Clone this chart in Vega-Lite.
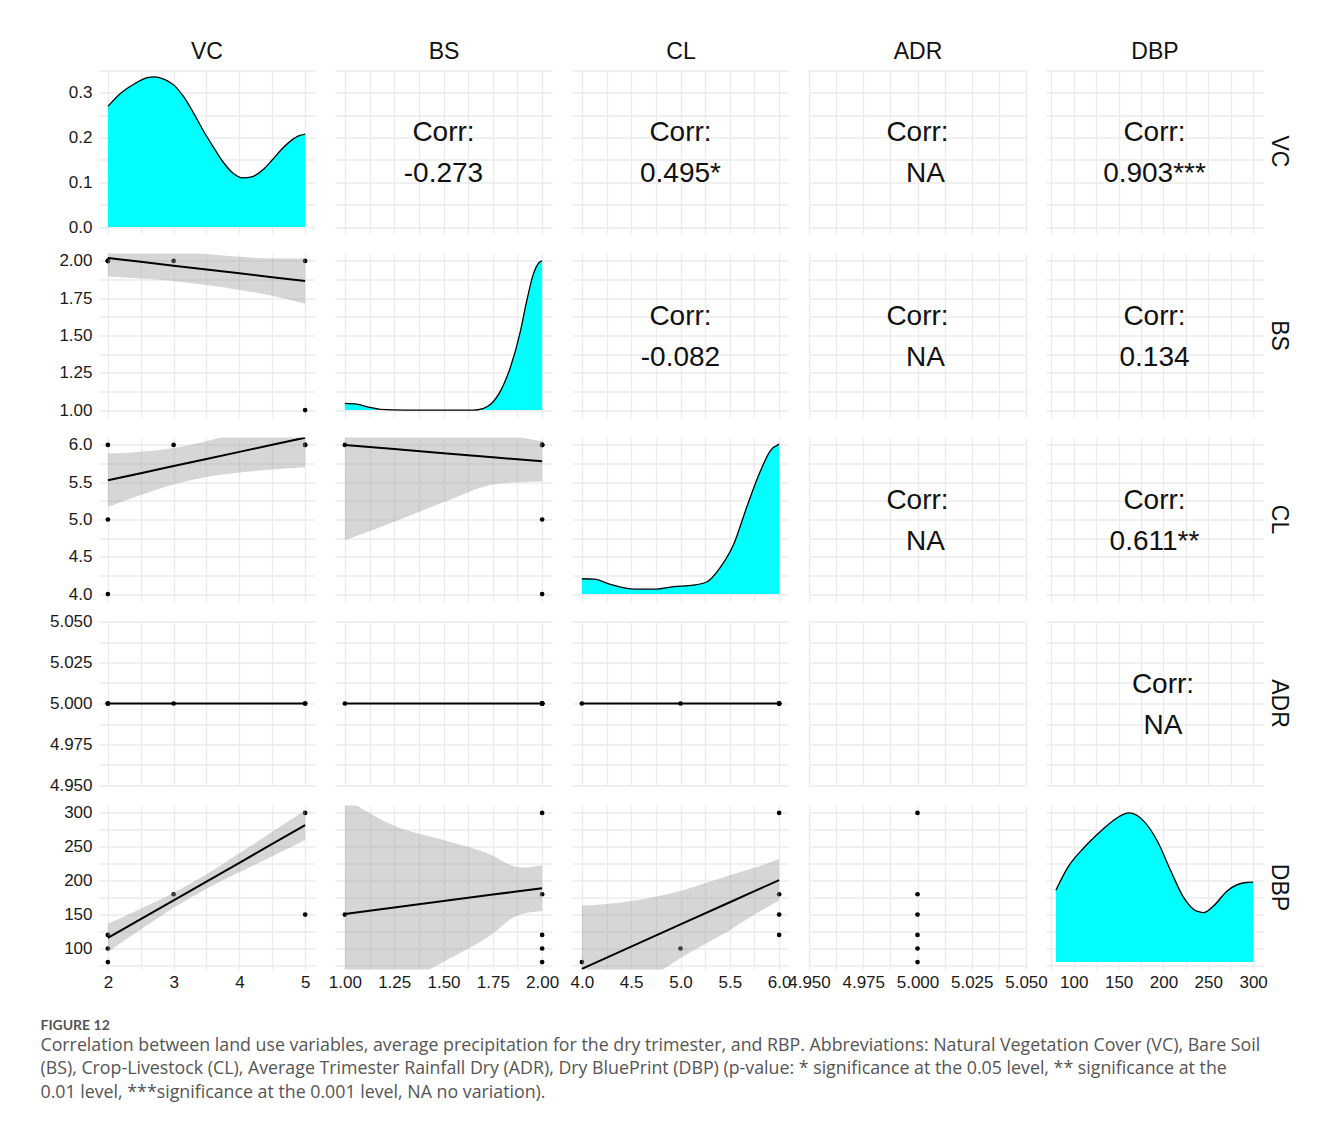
{
"$schema": "https://vega.github.io/schema/vega-lite/v6.json",
"background": "white",
"padding": {"left": 40, "top": 40.5, "right": 10, "bottom": 10},
"columns": 5,
"spacing": {"row": 20, "column": 20},
"bounds": "flush",
"title": {"text": "FIGURE 12", "subtitle": ["Correlation between land use variables, average precipitation for the dry trimester, and RBP. Abbreviations: Natural Vegetation Cover (VC), Bare Soil", "(BS), Crop-Livestock (CL), Average Trimester Rainfall Dry (ADR), Dry BluePrint (DBP) (p-value: * significance at the 0.05 level, ** significance at the", "0.01 level, ***significance at the 0.001 level, NA no variation)."], "orient": "bottom", "anchor": "start", "frame": "bounds", "font": "Lato", "fontSize": 14, "fontWeight": "bold", "color": "#555555", "subtitleFont": "Open Sans", "subtitleFontSize": 17.8, "subtitleColor": "#555555", "subtitleLineHeight": 23.5, "subtitlePadding": 4, "offset": 28, "dx": -9},
"datasets": {
"obs": [
{"VC":2,"BS":2,"CL":6,"ADR":5,"DBP":120},
{"VC":2,"BS":2,"CL":5,"ADR":5,"DBP":100},
{"VC":2,"BS":2,"CL":4,"ADR":5,"DBP":80},
{"VC":3,"BS":2,"CL":6,"ADR":5,"DBP":180},
{"VC":5,"BS":2,"CL":6,"ADR":5,"DBP":300},
{"VC":5,"BS":1,"CL":6,"ADR":5,"DBP":150}],
"dvc": [{"VC":2,"d":0.270},{"VC":2.2,"d":0.300},{"VC":2.4,"d":0.320},{"VC":2.6,"d":0.334},{"VC":2.7,"d":0.336},{"VC":2.85,"d":0.331},{"VC":3.0,"d":0.318},{"VC":3.15,"d":0.292},{"VC":3.3,"d":0.256},{"VC":3.45,"d":0.216},{"VC":3.6,"d":0.180},{"VC":3.75,"d":0.146},{"VC":3.9,"d":0.121},{"VC":4.05,"d":0.110},{"VC":4.2,"d":0.113},{"VC":4.35,"d":0.127},{"VC":4.5,"d":0.150},{"VC":4.65,"d":0.175},{"VC":4.8,"d":0.195},{"VC":4.9,"d":0.204},{"VC":5.0,"d":0.208}],
"dbs": [{"BS":1,"d":1.045},{"BS":1.06,"d":1.04},{"BS":1.12,"d":1.02},{"BS":1.18,"d":1.005},{"BS":1.3,"d":1.0},{"BS":1.5,"d":1.0},{"BS":1.65,"d":1.0},{"BS":1.7,"d":1.01},{"BS":1.74,"d":1.04},{"BS":1.79,"d":1.13},{"BS":1.84,"d":1.29},{"BS":1.89,"d":1.53},{"BS":1.92,"d":1.72},{"BS":1.955,"d":1.91},{"BS":1.985,"d":1.99},{"BS":2.0,"d":2.0}],
"dcl": [{"CL":4,"d":4.205},{"CL":4.125,"d":4.2},{"CL":4.29,"d":4.13},{"CL":4.53,"d":4.065},{"CL":4.73,"d":4.065},{"CL":4.93,"d":4.1},{"CL":5.13,"d":4.12},{"CL":5.27,"d":4.165},{"CL":5.4,"d":4.35},{"CL":5.54,"d":4.67},{"CL":5.67,"d":5.16},{"CL":5.81,"d":5.65},{"CL":5.91,"d":5.92},{"CL":6,"d":6.01}],
"ddbp": [{"DBP":80,"d":186},{"DBP":93,"d":219},{"DBP":111.5,"d":249},{"DBP":130,"d":273},{"DBP":148.5,"d":293},{"DBP":161.5,"d":300},{"DBP":178,"d":288},{"DBP":193,"d":259},{"DBP":208,"d":215},{"DBP":222.6,"d":175},{"DBP":237,"d":155},{"DBP":245,"d":153},{"DBP":256,"d":163},{"DBP":271,"d":185},{"DBP":290,"d":197},{"DBP":300,"d":198}],
"f_vc_bs": [{"x":2,"fit":2.02,"lo":1.895,"hi":2.145},{"x":2.5,"fit":1.994,"lo":1.882,"hi":2.106},{"x":3,"fit":1.968,"lo":1.866,"hi":2.07},{"x":3.5,"fit":1.942,"lo":1.838,"hi":2.046},{"x":4,"fit":1.917,"lo":1.806,"hi":2.028},{"x":4.5,"fit":1.891,"lo":1.766,"hi":2.016},{"x":5,"fit":1.865,"lo":1.713,"hi":2.017}],
"f_vc_cl": [{"x":2,"fit":5.526,"lo":5.168,"hi":5.884},{"x":2.5,"fit":5.621,"lo":5.33,"hi":5.91},{"x":3,"fit":5.717,"lo":5.47,"hi":5.96},{"x":3.5,"fit":5.812,"lo":5.57,"hi":6.05},{"x":4,"fit":5.907,"lo":5.63,"hi":6.18},{"x":4.5,"fit":6.003,"lo":5.67,"hi":6.33},{"x":5,"fit":6.098,"lo":5.7,"hi":6.5}],
"f_vc_dbp": [{"x":2,"fit":115.7,"lo":95,"hi":136.5},{"x":2.5,"fit":143.4,"lo":128,"hi":158.8},{"x":3,"fit":171.1,"lo":160,"hi":182.2},{"x":3.5,"fit":198.8,"lo":188,"hi":209.6},{"x":4,"fit":226.5,"lo":212.5,"hi":240.5},{"x":4.5,"fit":254.2,"lo":236,"hi":272.4},{"x":5,"fit":282,"lo":260,"hi":304}],
"f_bs_cl": [{"x":1,"fit":6.0,"lo":4.72,"hi":7.28},{"x":1.25,"fit":5.945,"lo":4.97,"hi":6.92},{"x":1.5,"fit":5.89,"lo":5.23,"hi":6.55},{"x":1.75,"fit":5.835,"lo":5.47,"hi":6.2},{"x":1.875,"fit":5.807,"lo":5.5,"hi":6.11},{"x":2,"fit":5.78,"lo":5.51,"hi":6.05}],
"f_bs_dbp": [{"x":1,"fit":151,"lo":-20,"hi":322},{"x":1.25,"fit":160.5,"lo":40,"hi":281},{"x":1.5,"fit":170,"lo":80,"hi":260},{"x":1.75,"fit":179.5,"lo":122,"hi":237},{"x":1.85,"fit":183.3,"lo":145,"hi":222},{"x":1.9,"fit":185.2,"lo":151,"hi":219.5},{"x":2,"fit":189,"lo":155,"hi":223}],
"f_cl_dbp": [{"x":4,"fit":70,"lo":-23,"hi":163},{"x":4.5,"fit":102.75,"lo":35,"hi":170},{"x":5,"fit":135.5,"lo":86,"hi":185},{"x":5.5,"fit":168.25,"lo":127,"hi":208},{"x":5.75,"fit":184.6,"lo":150,"hi":219},{"x":6,"fit":201,"lo":171,"hi":232}]
},
"concat": [
{"width":217,"height":164,"data":{"name":"dvc"},"layer":[
 {"mark":{"type":"area","color":"#00FFFF","interpolate":"monotone","clip":true},
  "encoding":{"x":{"field":"VC","type":"quantitative","scale":{"domain":[1.85,5.15],"nice":false,"zero":false},"axis":{"orient":"top","title":"VC","titlePadding":6,"labels":false,"values":[2,2.5,3,3.5,4,4.5,5]}},
   "y":{"field":"d","type":"quantitative","scale":{"domain":[-0.0145,0.3524],"nice":false,"zero":false},"axis":{"title":null,"values":[0,0.05,0.1,0.15,0.2,0.25,0.3,0.35],"labelExpr":"abs(datum.value*10 - round(datum.value*10)) < 0.000001 ? format(datum.value, '.1f') : ''"}},
   "y2":{"datum":0}}},
 {"mark":{"type":"line","color":"black","strokeWidth":1.3,"interpolate":"monotone","clip":true},
  "encoding":{"x":{"field":"VC","type":"quantitative","scale":{"domain":[1.85,5.15],"nice":false,"zero":false},"axis":{"orient":"top","title":"VC","titlePadding":6,"labels":false,"values":[2,2.5,3,3.5,4,4.5,5]}},
   "y":{"field":"d","type":"quantitative","scale":{"domain":[-0.0145,0.3524],"nice":false,"zero":false},"axis":{"title":null,"values":[0,0.05,0.1,0.15,0.2,0.25,0.3,0.35],"labelExpr":"abs(datum.value*10 - round(datum.value*10)) < 0.000001 ? format(datum.value, '.1f') : ''"}}}}
]},
{"width":217,"height":164,"data":{"values":[{"r":"-0.273"}]},"layer":[
 {"mark":{"type":"text","text":"Corr:","fontSize":28,"dy":-18.5,"color":"#111111"},
  "encoding":{"x":{"datum":1.5,"type":"quantitative","scale":{"domain":[0.95,2.05],"nice":false,"zero":false},"axis":{"orient":"top","title":"BS","titlePadding":6,"labels":false,"values":[1,1.125,1.25,1.375,1.5,1.625,1.75,1.875,2]}},
   "y":{"datum":0.169,"type":"quantitative","scale":{"domain":[-0.0145,0.3524],"nice":false,"zero":false},"axis":{"title":null,"labels":false,"values":[0,0.05,0.1,0.15,0.2,0.25,0.3,0.35]}}}},
 {"mark":{"type":"text","fontSize":28,"dy":22.5,"color":"#111111"},
  "encoding":{"x":{"datum":1.5,"type":"quantitative","scale":{"domain":[0.95,2.05],"nice":false,"zero":false},"axis":{"orient":"top","title":"BS","titlePadding":6,"labels":false,"values":[1,1.125,1.25,1.375,1.5,1.625,1.75,1.875,2]}},
   "y":{"datum":0.169,"type":"quantitative","scale":{"domain":[-0.0145,0.3524],"nice":false,"zero":false},"axis":{"title":null,"labels":false,"values":[0,0.05,0.1,0.15,0.2,0.25,0.3,0.35]}},"text":{"field":"r"}}}
]},
{"width":217,"height":164,"data":{"values":[{"r":"0.495*"}]},"layer":[
 {"mark":{"type":"text","text":"Corr:","fontSize":28,"dy":-18.5,"color":"#111111"},
  "encoding":{"x":{"datum":5,"type":"quantitative","scale":{"domain":[3.9,6.1],"nice":false,"zero":false},"axis":{"orient":"top","title":"CL","titlePadding":6,"labels":false,"values":[4,4.25,4.5,4.75,5,5.25,5.5,5.75,6]}},
   "y":{"datum":0.169,"type":"quantitative","scale":{"domain":[-0.0145,0.3524],"nice":false,"zero":false},"axis":{"title":null,"labels":false,"values":[0,0.05,0.1,0.15,0.2,0.25,0.3,0.35]}}}},
 {"mark":{"type":"text","fontSize":28,"dy":22.5,"color":"#111111"},
  "encoding":{"x":{"datum":5,"type":"quantitative","scale":{"domain":[3.9,6.1],"nice":false,"zero":false},"axis":{"orient":"top","title":"CL","titlePadding":6,"labels":false,"values":[4,4.25,4.5,4.75,5,5.25,5.5,5.75,6]}},
   "y":{"datum":0.169,"type":"quantitative","scale":{"domain":[-0.0145,0.3524],"nice":false,"zero":false},"axis":{"title":null,"labels":false,"values":[0,0.05,0.1,0.15,0.2,0.25,0.3,0.35]}},"text":{"field":"r"}}}
]},
{"width":217,"height":164,"data":{"values":[{"r":"NA"}]},"layer":[
 {"mark":{"type":"text","text":"Corr:","fontSize":28,"dy":-18.5,"color":"#111111"},
  "encoding":{"x":{"datum":5,"type":"quantitative","scale":{"domain":[4.95,5.05],"nice":false,"zero":false},"axis":{"orient":"top","title":"ADR","titlePadding":6,"labels":false,"values":[4.95,4.9625,4.975,4.9875,5,5.0125,5.025,5.0375,5.05]}},
   "y":{"datum":0.169,"type":"quantitative","scale":{"domain":[-0.0145,0.3524],"nice":false,"zero":false},"axis":{"title":null,"labels":false,"values":[0,0.05,0.1,0.15,0.2,0.25,0.3,0.35]}}}},
 {"mark":{"type":"text","fontSize":28,"dy":22.5,"dx":8,"color":"#111111"},
  "encoding":{"x":{"datum":5,"type":"quantitative","scale":{"domain":[4.95,5.05],"nice":false,"zero":false},"axis":{"orient":"top","title":"ADR","titlePadding":6,"labels":false,"values":[4.95,4.9625,4.975,4.9875,5,5.0125,5.025,5.0375,5.05]}},
   "y":{"datum":0.169,"type":"quantitative","scale":{"domain":[-0.0145,0.3524],"nice":false,"zero":false},"axis":{"title":null,"labels":false,"values":[0,0.05,0.1,0.15,0.2,0.25,0.3,0.35]}},"text":{"field":"r"}}}
]},
{"width":217,"height":164,"title":{"text":"VC","orient":"right","fontSize":23,"fontWeight":"normal","color":"#111111","offset":4},"data":{"values":[{"r":"0.903***"}]},"layer":[
 {"mark":{"type":"text","text":"Corr:","fontSize":28,"dy":-18.5,"color":"#111111"},
  "encoding":{"x":{"datum":190,"type":"quantitative","scale":{"domain":[69,311],"nice":false,"zero":false},"axis":{"orient":"top","title":"DBP","titlePadding":6,"labels":false,"values":[75,100,125,150,175,200,225,250,275,300]}},
   "y":{"datum":0.169,"type":"quantitative","scale":{"domain":[-0.0145,0.3524],"nice":false,"zero":false},"axis":{"title":null,"labels":false,"values":[0,0.05,0.1,0.15,0.2,0.25,0.3,0.35]}}}},
 {"mark":{"type":"text","fontSize":28,"dy":22.5,"color":"#111111"},
  "encoding":{"x":{"datum":190,"type":"quantitative","scale":{"domain":[69,311],"nice":false,"zero":false},"axis":{"orient":"top","title":"DBP","titlePadding":6,"labels":false,"values":[75,100,125,150,175,200,225,250,275,300]}},
   "y":{"datum":0.169,"type":"quantitative","scale":{"domain":[-0.0145,0.3524],"nice":false,"zero":false},"axis":{"title":null,"labels":false,"values":[0,0.05,0.1,0.15,0.2,0.25,0.3,0.35]}},"text":{"field":"r"}}}
]},

{"width":217,"height":164,"layer":[
 {"data":{"name":"obs"},"mark":{"type":"circle","size":22,"color":"black","opacity":1,"clip":true},
  "encoding":{"x":{"field":"VC","type":"quantitative","scale":{"domain":[1.85,5.15],"nice":false,"zero":false},"axis":{"title":null,"labels":false,"values":[2,2.5,3,3.5,4,4.5,5]}},
   "y":{"field":"BS","type":"quantitative","scale":{"domain":[0.95,2.05],"nice":false,"zero":false},"axis":{"title":null,"values":[1,1.125,1.25,1.375,1.5,1.625,1.75,1.875,2],"labelExpr":"abs(datum.value*4 - round(datum.value*4)) < 0.000001 ? format(datum.value, '.2f') : ''"}}}},
 {"data":{"name":"f_vc_bs"},"mark":{"type":"area","color":"#999999","opacity":0.4,"interpolate":"monotone","clip":true},
  "encoding":{"x":{"field":"x","type":"quantitative","scale":{"domain":[1.85,5.15],"nice":false,"zero":false},"axis":{"title":null,"labels":false,"values":[2,2.5,3,3.5,4,4.5,5]}},
   "y":{"field":"lo","type":"quantitative","scale":{"domain":[0.95,2.05],"nice":false,"zero":false},"axis":{"title":null,"values":[1,1.125,1.25,1.375,1.5,1.625,1.75,1.875,2],"labelExpr":"abs(datum.value*4 - round(datum.value*4)) < 0.000001 ? format(datum.value, '.2f') : ''"}},"y2":{"field":"hi"}}},
 {"data":{"name":"f_vc_bs"},"mark":{"type":"line","color":"black","strokeWidth":2,"clip":true},
  "encoding":{"x":{"field":"x","type":"quantitative","scale":{"domain":[1.85,5.15],"nice":false,"zero":false},"axis":{"title":null,"labels":false,"values":[2,2.5,3,3.5,4,4.5,5]}},
   "y":{"field":"fit","type":"quantitative","scale":{"domain":[0.95,2.05],"nice":false,"zero":false},"axis":{"title":null,"values":[1,1.125,1.25,1.375,1.5,1.625,1.75,1.875,2],"labelExpr":"abs(datum.value*4 - round(datum.value*4)) < 0.000001 ? format(datum.value, '.2f') : ''"}}}}
]},
{"width":217,"height":164,"data":{"name":"dbs"},"layer":[
 {"mark":{"type":"area","color":"#00FFFF","interpolate":"monotone","clip":true},
  "encoding":{"x":{"field":"BS","type":"quantitative","scale":{"domain":[0.95,2.05],"nice":false,"zero":false},"axis":{"title":null,"labels":false,"values":[1,1.125,1.25,1.375,1.5,1.625,1.75,1.875,2]}},
   "y":{"field":"d","type":"quantitative","scale":{"domain":[0.95,2.05],"nice":false,"zero":false},"axis":{"title":null,"labels":false,"values":[1,1.125,1.25,1.375,1.5,1.625,1.75,1.875,2]}},
   "y2":{"datum":1}}},
 {"mark":{"type":"line","color":"black","strokeWidth":1.3,"interpolate":"monotone","clip":true},
  "encoding":{"x":{"field":"BS","type":"quantitative","scale":{"domain":[0.95,2.05],"nice":false,"zero":false},"axis":{"title":null,"labels":false,"values":[1,1.125,1.25,1.375,1.5,1.625,1.75,1.875,2]}},
   "y":{"field":"d","type":"quantitative","scale":{"domain":[0.95,2.05],"nice":false,"zero":false},"axis":{"title":null,"labels":false,"values":[1,1.125,1.25,1.375,1.5,1.625,1.75,1.875,2]}}}}
]},
{"width":217,"height":164,"data":{"values":[{"r":"-0.082"}]},"layer":[
 {"mark":{"type":"text","text":"Corr:","fontSize":28,"dy":-18.5,"color":"#111111"},
  "encoding":{"x":{"datum":5,"type":"quantitative","scale":{"domain":[3.9,6.1],"nice":false,"zero":false},"axis":{"title":null,"labels":false,"values":[4,4.25,4.5,4.75,5,5.25,5.5,5.75,6]}},
   "y":{"datum":1.5,"type":"quantitative","scale":{"domain":[0.95,2.05],"nice":false,"zero":false},"axis":{"title":null,"labels":false,"values":[1,1.125,1.25,1.375,1.5,1.625,1.75,1.875,2]}}}},
 {"mark":{"type":"text","fontSize":28,"dy":22.5,"color":"#111111"},
  "encoding":{"x":{"datum":5,"type":"quantitative","scale":{"domain":[3.9,6.1],"nice":false,"zero":false},"axis":{"title":null,"labels":false,"values":[4,4.25,4.5,4.75,5,5.25,5.5,5.75,6]}},
   "y":{"datum":1.5,"type":"quantitative","scale":{"domain":[0.95,2.05],"nice":false,"zero":false},"axis":{"title":null,"labels":false,"values":[1,1.125,1.25,1.375,1.5,1.625,1.75,1.875,2]}},"text":{"field":"r"}}}
]},
{"width":217,"height":164,"data":{"values":[{"r":"NA"}]},"layer":[
 {"mark":{"type":"text","text":"Corr:","fontSize":28,"dy":-18.5,"color":"#111111"},
  "encoding":{"x":{"datum":5,"type":"quantitative","scale":{"domain":[4.95,5.05],"nice":false,"zero":false},"axis":{"title":null,"labels":false,"values":[4.95,4.9625,4.975,4.9875,5,5.0125,5.025,5.0375,5.05]}},
   "y":{"datum":1.5,"type":"quantitative","scale":{"domain":[0.95,2.05],"nice":false,"zero":false},"axis":{"title":null,"labels":false,"values":[1,1.125,1.25,1.375,1.5,1.625,1.75,1.875,2]}}}},
 {"mark":{"type":"text","fontSize":28,"dy":22.5,"dx":8,"color":"#111111"},
  "encoding":{"x":{"datum":5,"type":"quantitative","scale":{"domain":[4.95,5.05],"nice":false,"zero":false},"axis":{"title":null,"labels":false,"values":[4.95,4.9625,4.975,4.9875,5,5.0125,5.025,5.0375,5.05]}},
   "y":{"datum":1.5,"type":"quantitative","scale":{"domain":[0.95,2.05],"nice":false,"zero":false},"axis":{"title":null,"labels":false,"values":[1,1.125,1.25,1.375,1.5,1.625,1.75,1.875,2]}},"text":{"field":"r"}}}
]},
{"width":217,"height":164,"title":{"text":"BS","orient":"right","fontSize":23,"fontWeight":"normal","color":"#111111","offset":4},"data":{"values":[{"r":"0.134"}]},"layer":[
 {"mark":{"type":"text","text":"Corr:","fontSize":28,"dy":-18.5,"color":"#111111"},
  "encoding":{"x":{"datum":190,"type":"quantitative","scale":{"domain":[69,311],"nice":false,"zero":false},"axis":{"title":null,"labels":false,"values":[75,100,125,150,175,200,225,250,275,300]}},
   "y":{"datum":1.5,"type":"quantitative","scale":{"domain":[0.95,2.05],"nice":false,"zero":false},"axis":{"title":null,"labels":false,"values":[1,1.125,1.25,1.375,1.5,1.625,1.75,1.875,2]}}}},
 {"mark":{"type":"text","fontSize":28,"dy":22.5,"color":"#111111"},
  "encoding":{"x":{"datum":190,"type":"quantitative","scale":{"domain":[69,311],"nice":false,"zero":false},"axis":{"title":null,"labels":false,"values":[75,100,125,150,175,200,225,250,275,300]}},
   "y":{"datum":1.5,"type":"quantitative","scale":{"domain":[0.95,2.05],"nice":false,"zero":false},"axis":{"title":null,"labels":false,"values":[1,1.125,1.25,1.375,1.5,1.625,1.75,1.875,2]}},"text":{"field":"r"}}}
]},

{"width":217,"height":164,"layer":[
 {"data":{"name":"obs"},"mark":{"type":"circle","size":22,"color":"black","opacity":1,"clip":true},
  "encoding":{"x":{"field":"VC","type":"quantitative","scale":{"domain":[1.85,5.15],"nice":false,"zero":false},"axis":{"title":null,"labels":false,"values":[2,2.5,3,3.5,4,4.5,5]}},
   "y":{"field":"CL","type":"quantitative","scale":{"domain":[3.9,6.1],"nice":false,"zero":false},"axis":{"title":null,"values":[4,4.25,4.5,4.75,5,5.25,5.5,5.75,6],"labelExpr":"abs(datum.value*2 - round(datum.value*2)) < 0.000001 ? format(datum.value, '.1f') : ''"}}}},
 {"data":{"name":"f_vc_cl"},"mark":{"type":"area","color":"#999999","opacity":0.4,"interpolate":"monotone","clip":true},
  "encoding":{"x":{"field":"x","type":"quantitative","scale":{"domain":[1.85,5.15],"nice":false,"zero":false},"axis":{"title":null,"labels":false,"values":[2,2.5,3,3.5,4,4.5,5]}},
   "y":{"field":"lo","type":"quantitative","scale":{"domain":[3.9,6.1],"nice":false,"zero":false},"axis":{"title":null,"values":[4,4.25,4.5,4.75,5,5.25,5.5,5.75,6],"labelExpr":"abs(datum.value*2 - round(datum.value*2)) < 0.000001 ? format(datum.value, '.1f') : ''"}},"y2":{"field":"hi"}}},
 {"data":{"name":"f_vc_cl"},"mark":{"type":"line","color":"black","strokeWidth":2,"clip":true},
  "encoding":{"x":{"field":"x","type":"quantitative","scale":{"domain":[1.85,5.15],"nice":false,"zero":false},"axis":{"title":null,"labels":false,"values":[2,2.5,3,3.5,4,4.5,5]}},
   "y":{"field":"fit","type":"quantitative","scale":{"domain":[3.9,6.1],"nice":false,"zero":false},"axis":{"title":null,"values":[4,4.25,4.5,4.75,5,5.25,5.5,5.75,6],"labelExpr":"abs(datum.value*2 - round(datum.value*2)) < 0.000001 ? format(datum.value, '.1f') : ''"}}}}
]},
{"width":217,"height":164,"layer":[
 {"data":{"name":"obs"},"mark":{"type":"circle","size":22,"color":"black","opacity":1,"clip":true},
  "encoding":{"x":{"field":"BS","type":"quantitative","scale":{"domain":[0.95,2.05],"nice":false,"zero":false},"axis":{"title":null,"labels":false,"values":[1,1.125,1.25,1.375,1.5,1.625,1.75,1.875,2]}},
   "y":{"field":"CL","type":"quantitative","scale":{"domain":[3.9,6.1],"nice":false,"zero":false},"axis":{"title":null,"labels":false,"values":[4,4.25,4.5,4.75,5,5.25,5.5,5.75,6]}}}},
 {"data":{"name":"f_bs_cl"},"mark":{"type":"area","color":"#999999","opacity":0.4,"interpolate":"monotone","clip":true},
  "encoding":{"x":{"field":"x","type":"quantitative","scale":{"domain":[0.95,2.05],"nice":false,"zero":false},"axis":{"title":null,"labels":false,"values":[1,1.125,1.25,1.375,1.5,1.625,1.75,1.875,2]}},
   "y":{"field":"lo","type":"quantitative","scale":{"domain":[3.9,6.1],"nice":false,"zero":false},"axis":{"title":null,"labels":false,"values":[4,4.25,4.5,4.75,5,5.25,5.5,5.75,6]}},"y2":{"field":"hi"}}},
 {"data":{"name":"f_bs_cl"},"mark":{"type":"line","color":"black","strokeWidth":2,"clip":true},
  "encoding":{"x":{"field":"x","type":"quantitative","scale":{"domain":[0.95,2.05],"nice":false,"zero":false},"axis":{"title":null,"labels":false,"values":[1,1.125,1.25,1.375,1.5,1.625,1.75,1.875,2]}},
   "y":{"field":"fit","type":"quantitative","scale":{"domain":[3.9,6.1],"nice":false,"zero":false},"axis":{"title":null,"labels":false,"values":[4,4.25,4.5,4.75,5,5.25,5.5,5.75,6]}}}}
]},
{"width":217,"height":164,"data":{"name":"dcl"},"layer":[
 {"mark":{"type":"area","color":"#00FFFF","interpolate":"monotone","clip":true},
  "encoding":{"x":{"field":"CL","type":"quantitative","scale":{"domain":[3.9,6.1],"nice":false,"zero":false},"axis":{"title":null,"labels":false,"values":[4,4.25,4.5,4.75,5,5.25,5.5,5.75,6]}},
   "y":{"field":"d","type":"quantitative","scale":{"domain":[3.9,6.1],"nice":false,"zero":false},"axis":{"title":null,"labels":false,"values":[4,4.25,4.5,4.75,5,5.25,5.5,5.75,6]}},
   "y2":{"datum":4}}},
 {"mark":{"type":"line","color":"black","strokeWidth":1.3,"interpolate":"monotone","clip":true},
  "encoding":{"x":{"field":"CL","type":"quantitative","scale":{"domain":[3.9,6.1],"nice":false,"zero":false},"axis":{"title":null,"labels":false,"values":[4,4.25,4.5,4.75,5,5.25,5.5,5.75,6]}},
   "y":{"field":"d","type":"quantitative","scale":{"domain":[3.9,6.1],"nice":false,"zero":false},"axis":{"title":null,"labels":false,"values":[4,4.25,4.5,4.75,5,5.25,5.5,5.75,6]}}}}
]},
{"width":217,"height":164,"data":{"values":[{"r":"NA"}]},"layer":[
 {"mark":{"type":"text","text":"Corr:","fontSize":28,"dy":-18.5,"color":"#111111"},
  "encoding":{"x":{"datum":5,"type":"quantitative","scale":{"domain":[4.95,5.05],"nice":false,"zero":false},"axis":{"title":null,"labels":false,"values":[4.95,4.9625,4.975,4.9875,5,5.0125,5.025,5.0375,5.05]}},
   "y":{"datum":5,"type":"quantitative","scale":{"domain":[3.9,6.1],"nice":false,"zero":false},"axis":{"title":null,"labels":false,"values":[4,4.25,4.5,4.75,5,5.25,5.5,5.75,6]}}}},
 {"mark":{"type":"text","fontSize":28,"dy":22.5,"dx":8,"color":"#111111"},
  "encoding":{"x":{"datum":5,"type":"quantitative","scale":{"domain":[4.95,5.05],"nice":false,"zero":false},"axis":{"title":null,"labels":false,"values":[4.95,4.9625,4.975,4.9875,5,5.0125,5.025,5.0375,5.05]}},
   "y":{"datum":5,"type":"quantitative","scale":{"domain":[3.9,6.1],"nice":false,"zero":false},"axis":{"title":null,"labels":false,"values":[4,4.25,4.5,4.75,5,5.25,5.5,5.75,6]}},"text":{"field":"r"}}}
]},
{"width":217,"height":164,"title":{"text":"CL","orient":"right","fontSize":23,"fontWeight":"normal","color":"#111111","offset":4},"data":{"values":[{"r":"0.611**"}]},"layer":[
 {"mark":{"type":"text","text":"Corr:","fontSize":28,"dy":-18.5,"color":"#111111"},
  "encoding":{"x":{"datum":190,"type":"quantitative","scale":{"domain":[69,311],"nice":false,"zero":false},"axis":{"title":null,"labels":false,"values":[75,100,125,150,175,200,225,250,275,300]}},
   "y":{"datum":5,"type":"quantitative","scale":{"domain":[3.9,6.1],"nice":false,"zero":false},"axis":{"title":null,"labels":false,"values":[4,4.25,4.5,4.75,5,5.25,5.5,5.75,6]}}}},
 {"mark":{"type":"text","fontSize":28,"dy":22.5,"color":"#111111"},
  "encoding":{"x":{"datum":190,"type":"quantitative","scale":{"domain":[69,311],"nice":false,"zero":false},"axis":{"title":null,"labels":false,"values":[75,100,125,150,175,200,225,250,275,300]}},
   "y":{"datum":5,"type":"quantitative","scale":{"domain":[3.9,6.1],"nice":false,"zero":false},"axis":{"title":null,"labels":false,"values":[4,4.25,4.5,4.75,5,5.25,5.5,5.75,6]}},"text":{"field":"r"}}}
]},

{"width":217,"height":164,"data":{"name":"obs"},"layer":[
 {"mark":{"type":"line","color":"black","strokeWidth":2,"clip":true},
  "encoding":{"x":{"field":"VC","type":"quantitative","scale":{"domain":[1.85,5.15],"nice":false,"zero":false},"axis":{"title":null,"labels":false,"values":[2,2.5,3,3.5,4,4.5,5]}},
   "y":{"field":"ADR","type":"quantitative","scale":{"domain":[4.95,5.05],"nice":false,"zero":false},"axis":{"title":null,"values":[4.95,4.9625,4.975,4.9875,5,5.0125,5.025,5.0375,5.05],"labelExpr":"abs(datum.value*40 - round(datum.value*40)) < 0.000001 ? format(datum.value, '.3f') : ''"}}}},
 {"mark":{"type":"circle","size":22,"color":"black","opacity":1,"clip":true},
  "encoding":{"x":{"field":"VC","type":"quantitative","scale":{"domain":[1.85,5.15],"nice":false,"zero":false},"axis":{"title":null,"labels":false,"values":[2,2.5,3,3.5,4,4.5,5]}},
   "y":{"field":"ADR","type":"quantitative","scale":{"domain":[4.95,5.05],"nice":false,"zero":false},"axis":{"title":null,"values":[4.95,4.9625,4.975,4.9875,5,5.0125,5.025,5.0375,5.05],"labelExpr":"abs(datum.value*40 - round(datum.value*40)) < 0.000001 ? format(datum.value, '.3f') : ''"}}}}
]},
{"width":217,"height":164,"data":{"name":"obs"},"layer":[
 {"mark":{"type":"line","color":"black","strokeWidth":2,"clip":true},
  "encoding":{"x":{"field":"BS","type":"quantitative","scale":{"domain":[0.95,2.05],"nice":false,"zero":false},"axis":{"title":null,"labels":false,"values":[1,1.125,1.25,1.375,1.5,1.625,1.75,1.875,2]}},
   "y":{"field":"ADR","type":"quantitative","scale":{"domain":[4.95,5.05],"nice":false,"zero":false},"axis":{"title":null,"labels":false,"values":[4.95,4.9625,4.975,4.9875,5,5.0125,5.025,5.0375,5.05]}}}},
 {"mark":{"type":"circle","size":22,"color":"black","opacity":1,"clip":true},
  "encoding":{"x":{"field":"BS","type":"quantitative","scale":{"domain":[0.95,2.05],"nice":false,"zero":false},"axis":{"title":null,"labels":false,"values":[1,1.125,1.25,1.375,1.5,1.625,1.75,1.875,2]}},
   "y":{"field":"ADR","type":"quantitative","scale":{"domain":[4.95,5.05],"nice":false,"zero":false},"axis":{"title":null,"labels":false,"values":[4.95,4.9625,4.975,4.9875,5,5.0125,5.025,5.0375,5.05]}}}}
]},
{"width":217,"height":164,"data":{"name":"obs"},"layer":[
 {"mark":{"type":"line","color":"black","strokeWidth":2,"clip":true},
  "encoding":{"x":{"field":"CL","type":"quantitative","scale":{"domain":[3.9,6.1],"nice":false,"zero":false},"axis":{"title":null,"labels":false,"values":[4,4.25,4.5,4.75,5,5.25,5.5,5.75,6]}},
   "y":{"field":"ADR","type":"quantitative","scale":{"domain":[4.95,5.05],"nice":false,"zero":false},"axis":{"title":null,"labels":false,"values":[4.95,4.9625,4.975,4.9875,5,5.0125,5.025,5.0375,5.05]}}}},
 {"mark":{"type":"circle","size":22,"color":"black","opacity":1,"clip":true},
  "encoding":{"x":{"field":"CL","type":"quantitative","scale":{"domain":[3.9,6.1],"nice":false,"zero":false},"axis":{"title":null,"labels":false,"values":[4,4.25,4.5,4.75,5,5.25,5.5,5.75,6]}},
   "y":{"field":"ADR","type":"quantitative","scale":{"domain":[4.95,5.05],"nice":false,"zero":false},"axis":{"title":null,"labels":false,"values":[4.95,4.9625,4.975,4.9875,5,5.0125,5.025,5.0375,5.05]}}}}
]},
{"width":217,"height":164,"data":{"values":[{"r":""}]},
 "mark":{"type":"text","text":""},
 "encoding":{"x":{"datum":5,"type":"quantitative","scale":{"domain":[4.95,5.05],"nice":false,"zero":false},"axis":{"title":null,"labels":false,"values":[4.95,4.9625,4.975,4.9875,5,5.0125,5.025,5.0375,5.05]}},
   "y":{"datum":5,"type":"quantitative","scale":{"domain":[4.95,5.05],"nice":false,"zero":false},"axis":{"title":null,"labels":false,"values":[4.95,4.9625,4.975,4.9875,5,5.0125,5.025,5.0375,5.05]}}}
},
{"width":217,"height":164,"title":{"text":"ADR","orient":"right","fontSize":23,"fontWeight":"normal","color":"#111111","offset":4},"data":{"values":[{"r":"NA"}]},"layer":[
 {"mark":{"type":"text","text":"Corr:","fontSize":28,"dy":-18.5,"dx":8.5,"color":"#111111"},
  "encoding":{"x":{"datum":190,"type":"quantitative","scale":{"domain":[69,311],"nice":false,"zero":false},"axis":{"title":null,"labels":false,"values":[75,100,125,150,175,200,225,250,275,300]}},
   "y":{"datum":5,"type":"quantitative","scale":{"domain":[4.95,5.05],"nice":false,"zero":false},"axis":{"title":null,"labels":false,"values":[4.95,4.9625,4.975,4.9875,5,5.0125,5.025,5.0375,5.05]}}}},
 {"mark":{"type":"text","fontSize":28,"dy":22.5,"dx":8.5,"color":"#111111"},
  "encoding":{"x":{"datum":190,"type":"quantitative","scale":{"domain":[69,311],"nice":false,"zero":false},"axis":{"title":null,"labels":false,"values":[75,100,125,150,175,200,225,250,275,300]}},
   "y":{"datum":5,"type":"quantitative","scale":{"domain":[4.95,5.05],"nice":false,"zero":false},"axis":{"title":null,"labels":false,"values":[4.95,4.9625,4.975,4.9875,5,5.0125,5.025,5.0375,5.05]}},"text":{"field":"r"}}}
]},

{"width":217,"height":164,"layer":[
 {"data":{"name":"obs"},"mark":{"type":"circle","size":22,"color":"black","opacity":1,"clip":true},
  "encoding":{"x":{"field":"VC","type":"quantitative","scale":{"domain":[1.85,5.15],"nice":false,"zero":false},"axis":{"title":null,"values":[2,2.5,3,3.5,4,4.5,5],"labelExpr":"datum.value % 1 === 0 ? format(datum.value, 'd') : ''"}},
   "y":{"field":"DBP","type":"quantitative","scale":{"domain":[69,311],"nice":false,"zero":false},"axis":{"title":null,"values":[75,100,125,150,175,200,225,250,275,300],"labelExpr":"datum.value % 50 === 0 ? format(datum.value, 'd') : ''"}}}},
 {"data":{"name":"f_vc_dbp"},"mark":{"type":"area","color":"#999999","opacity":0.4,"interpolate":"monotone","clip":true},
  "encoding":{"x":{"field":"x","type":"quantitative","scale":{"domain":[1.85,5.15],"nice":false,"zero":false},"axis":{"title":null,"values":[2,2.5,3,3.5,4,4.5,5],"labelExpr":"datum.value % 1 === 0 ? format(datum.value, 'd') : ''"}},
   "y":{"field":"lo","type":"quantitative","scale":{"domain":[69,311],"nice":false,"zero":false},"axis":{"title":null,"values":[75,100,125,150,175,200,225,250,275,300],"labelExpr":"datum.value % 50 === 0 ? format(datum.value, 'd') : ''"}},"y2":{"field":"hi"}}},
 {"data":{"name":"f_vc_dbp"},"mark":{"type":"line","color":"black","strokeWidth":2,"clip":true},
  "encoding":{"x":{"field":"x","type":"quantitative","scale":{"domain":[1.85,5.15],"nice":false,"zero":false},"axis":{"title":null,"values":[2,2.5,3,3.5,4,4.5,5],"labelExpr":"datum.value % 1 === 0 ? format(datum.value, 'd') : ''"}},
   "y":{"field":"fit","type":"quantitative","scale":{"domain":[69,311],"nice":false,"zero":false},"axis":{"title":null,"values":[75,100,125,150,175,200,225,250,275,300],"labelExpr":"datum.value % 50 === 0 ? format(datum.value, 'd') : ''"}}}}
]},
{"width":217,"height":164,"layer":[
 {"data":{"name":"obs"},"mark":{"type":"circle","size":22,"color":"black","opacity":1,"clip":true},
  "encoding":{"x":{"field":"BS","type":"quantitative","scale":{"domain":[0.95,2.05],"nice":false,"zero":false},"axis":{"title":null,"values":[1,1.125,1.25,1.375,1.5,1.625,1.75,1.875,2],"labelExpr":"abs(datum.value*4 - round(datum.value*4)) < 0.000001 ? format(datum.value, '.2f') : ''"}},
   "y":{"field":"DBP","type":"quantitative","scale":{"domain":[69,311],"nice":false,"zero":false},"axis":{"title":null,"labels":false,"values":[75,100,125,150,175,200,225,250,275,300]}}}},
 {"data":{"name":"f_bs_dbp"},"mark":{"type":"area","color":"#999999","opacity":0.4,"interpolate":"monotone","clip":true},
  "encoding":{"x":{"field":"x","type":"quantitative","scale":{"domain":[0.95,2.05],"nice":false,"zero":false},"axis":{"title":null,"values":[1,1.125,1.25,1.375,1.5,1.625,1.75,1.875,2],"labelExpr":"abs(datum.value*4 - round(datum.value*4)) < 0.000001 ? format(datum.value, '.2f') : ''"}},
   "y":{"field":"lo","type":"quantitative","scale":{"domain":[69,311],"nice":false,"zero":false},"axis":{"title":null,"labels":false,"values":[75,100,125,150,175,200,225,250,275,300]}},"y2":{"field":"hi"}}},
 {"data":{"name":"f_bs_dbp"},"mark":{"type":"line","color":"black","strokeWidth":2,"clip":true},
  "encoding":{"x":{"field":"x","type":"quantitative","scale":{"domain":[0.95,2.05],"nice":false,"zero":false},"axis":{"title":null,"values":[1,1.125,1.25,1.375,1.5,1.625,1.75,1.875,2],"labelExpr":"abs(datum.value*4 - round(datum.value*4)) < 0.000001 ? format(datum.value, '.2f') : ''"}},
   "y":{"field":"fit","type":"quantitative","scale":{"domain":[69,311],"nice":false,"zero":false},"axis":{"title":null,"labels":false,"values":[75,100,125,150,175,200,225,250,275,300]}}}}
]},
{"width":217,"height":164,"layer":[
 {"data":{"name":"obs"},"mark":{"type":"circle","size":22,"color":"black","opacity":1,"clip":true},
  "encoding":{"x":{"field":"CL","type":"quantitative","scale":{"domain":[3.9,6.1],"nice":false,"zero":false},"axis":{"title":null,"values":[4,4.25,4.5,4.75,5,5.25,5.5,5.75,6],"labelExpr":"abs(datum.value*2 - round(datum.value*2)) < 0.000001 ? format(datum.value, '.1f') : ''"}},
   "y":{"field":"DBP","type":"quantitative","scale":{"domain":[69,311],"nice":false,"zero":false},"axis":{"title":null,"labels":false,"values":[75,100,125,150,175,200,225,250,275,300]}}}},
 {"data":{"name":"f_cl_dbp"},"mark":{"type":"area","color":"#999999","opacity":0.4,"interpolate":"monotone","clip":true},
  "encoding":{"x":{"field":"x","type":"quantitative","scale":{"domain":[3.9,6.1],"nice":false,"zero":false},"axis":{"title":null,"values":[4,4.25,4.5,4.75,5,5.25,5.5,5.75,6],"labelExpr":"abs(datum.value*2 - round(datum.value*2)) < 0.000001 ? format(datum.value, '.1f') : ''"}},
   "y":{"field":"lo","type":"quantitative","scale":{"domain":[69,311],"nice":false,"zero":false},"axis":{"title":null,"labels":false,"values":[75,100,125,150,175,200,225,250,275,300]}},"y2":{"field":"hi"}}},
 {"data":{"name":"f_cl_dbp"},"mark":{"type":"line","color":"black","strokeWidth":2,"clip":true},
  "encoding":{"x":{"field":"x","type":"quantitative","scale":{"domain":[3.9,6.1],"nice":false,"zero":false},"axis":{"title":null,"values":[4,4.25,4.5,4.75,5,5.25,5.5,5.75,6],"labelExpr":"abs(datum.value*2 - round(datum.value*2)) < 0.000001 ? format(datum.value, '.1f') : ''"}},
   "y":{"field":"fit","type":"quantitative","scale":{"domain":[69,311],"nice":false,"zero":false},"axis":{"title":null,"labels":false,"values":[75,100,125,150,175,200,225,250,275,300]}}}}
]},
{"width":217,"height":164,"data":{"name":"obs"},
 "mark":{"type":"circle","size":22,"color":"black","opacity":1,"clip":true},
 "encoding":{"x":{"field":"ADR","type":"quantitative","scale":{"domain":[4.95,5.05],"nice":false,"zero":false},"axis":{"title":null,"values":[4.95,4.9625,4.975,4.9875,5,5.0125,5.025,5.0375,5.05],"labelExpr":"abs(datum.value*40 - round(datum.value*40)) < 0.000001 ? format(datum.value, '.3f') : ''"}},
   "y":{"field":"DBP","type":"quantitative","scale":{"domain":[69,311],"nice":false,"zero":false},"axis":{"title":null,"labels":false,"values":[75,100,125,150,175,200,225,250,275,300]}}}
},
{"width":217,"height":164,"title":{"text":"DBP","orient":"right","fontSize":23,"fontWeight":"normal","color":"#111111","offset":0},"data":{"name":"ddbp"},"layer":[
 {"mark":{"type":"area","color":"#00FFFF","interpolate":"monotone","clip":true},
  "encoding":{"x":{"field":"DBP","type":"quantitative","scale":{"domain":[69,311],"nice":false,"zero":false},"axis":{"title":null,"values":[75,100,125,150,175,200,225,250,275,300],"labelExpr":"datum.value % 50 === 0 ? format(datum.value, 'd') : ''"}},
   "y":{"field":"d","type":"quantitative","scale":{"domain":[69,311],"nice":false,"zero":false},"axis":{"title":null,"labels":false,"values":[75,100,125,150,175,200,225,250,275,300]}},
   "y2":{"datum":80}}},
 {"mark":{"type":"line","color":"black","strokeWidth":1.3,"interpolate":"monotone","clip":true},
  "encoding":{"x":{"field":"DBP","type":"quantitative","scale":{"domain":[69,311],"nice":false,"zero":false},"axis":{"title":null,"values":[75,100,125,150,175,200,225,250,275,300],"labelExpr":"datum.value % 50 === 0 ? format(datum.value, 'd') : ''"}},
   "y":{"field":"d","type":"quantitative","scale":{"domain":[69,311],"nice":false,"zero":false},"axis":{"title":null,"labels":false,"values":[75,100,125,150,175,200,225,250,275,300]}}}}
]}
],
"config": {
 "font": "Liberation Sans",
 "view": {"stroke": null},
 "axis": {"domain": false, "ticks": false, "grid": true, "gridColor": "#ebebeb", "gridWidth": 1.3, "labelFont": "Liberation Sans", "labelFontSize": 17, "labelColor": "#1a1a1a", "labelOverlap": false, "labelFlush": false, "labelBound": false, "titleFont": "Liberation Sans", "titleFontWeight": "normal", "titleFontSize": 23, "titleColor": "#111111"},
 "axisX": {"labelPadding": 5},
 "axisY": {"labelPadding": 6},
 "text": {"font": "Liberation Sans"}
}
}
